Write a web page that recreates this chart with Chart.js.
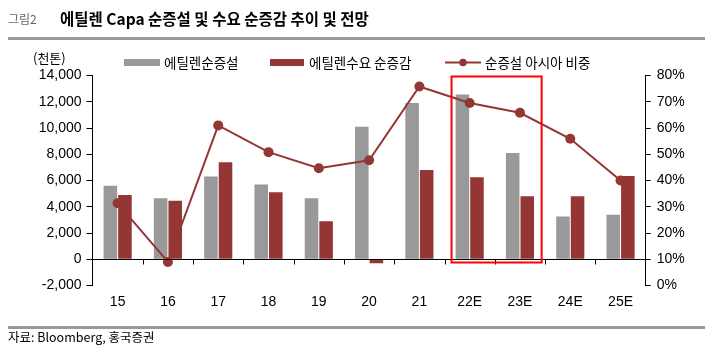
<!DOCTYPE html>
<html>
<head>
<meta charset="utf-8">
<script src="https://cdn.jsdelivr.net/npm/chart.js@4"></script>
<style>
  body { margin: 0; background: #fff; }
  #wrap { position: relative; width: 715px; height: 349px; overflow: hidden; }
  #c { position: absolute; left: 0; top: 0; }
  .t { position: absolute; white-space: nowrap; font-family: "Noto Sans CJK KR", sans-serif; color: #000; }
  .rule { position: absolute; left: 8px; width: 697px; background: #999; }
</style>
</head>
<body>
<div id="wrap">
  <canvas id="c" width="715" height="349"></canvas>
  <div class="t" style="left:8px; top:10px; font-size:12px; color:#666;">그림2</div>
  <div class="t" style="left:60px; top:7px; font-size:15.5px; font-weight:bold;">에틸렌 Capa 순증설 및 수요 순증감 추이 및 전망</div>
  <div class="rule" style="top:37px; height:3px;"></div>
  <div class="t" style="left:33px; top:48px; font-size:13px;">(천톤)</div>
  <div class="rule" style="top:326px; height:2.5px;"></div>
  <div class="t" style="left:8px; top:327px; font-size:12.5px;">자료: Bloomberg, 홍국증권</div>
</div>
<script>
// data
const categories = ['15', '16', '17', '18', '19', '20', '21', '22E', '23E', '24E', '25E'];
const capaAdds = [5600, 4650, 6300, 5700, 4650, 10100, 11900, 12550, 8100, 3250, 3400];
const demandAdds = [4900, 4450, 7400, 5100, 2900, -300, 6800, 6250, 4800, 4800, 6350];
const asiaShare = [31.3, 9, 61, 50.8, 44.7, 47.7, 75.8, 69.5, 65.8, 55.9, 40];
const highlighted = ['22E', '23E'];

const GRAY = '#999999';
const RED = '#943634';
const tickFont = { family: 'Liberation Sans, Arial, sans-serif', size: 14 };

// zero line + category ticks, highlight box, legend
const extras = {
    id: 'extras',
    afterDatasetsDraw(chart) {
        const ctx = chart.ctx;
        const x = chart.scales.x, y = chart.scales.y;
        const area = chart.chartArea;
        const y0 = Math.round(y.getPixelForValue(0)) + 0.5;
        const step = x.getPixelForValue(1) - x.getPixelForValue(0);
        ctx.save();
        ctx.strokeStyle = '#000';
        ctx.lineWidth = 1;
        ctx.beginPath();
        ctx.moveTo(area.left, y0);
        ctx.lineTo(area.right, y0);
        for (let i = 0; i < categories.length - 1; i++) {
            const px = Math.round(x.getPixelForValue(i) + step / 2) + 0.5;
            ctx.moveTo(px, y0);
            ctx.lineTo(px, y0 + 5);
        }
        ctx.stroke();

        // red box round the forecast years
        const i0 = categories.indexOf(highlighted[0]);
        const i1 = categories.indexOf(highlighted[highlighted.length - 1]);
        const bx0 = x.getPixelForValue(i0) - step / 2 + 7;
        const bx1 = x.getPixelForValue(i1) + step / 2 - 3.5;
        ctx.strokeStyle = '#ff0000';
        ctx.lineWidth = 2;
        ctx.strokeRect(bx0, area.top + 1, bx1 - bx0, y0 + 2 - area.top);
        ctx.restore();
    },
    afterDraw(chart) {
        const ctx = chart.ctx;
        const ly = 62.5;
        ctx.save();
        ctx.font = '13.5px "Noto Sans CJK KR", sans-serif';
        ctx.textBaseline = 'middle';
        ctx.fillStyle = GRAY;
        ctx.fillRect(124, ly - 3.5, 36, 7);
        ctx.fillStyle = RED;
        ctx.fillRect(270, ly - 3.5, 34, 7);
        ctx.strokeStyle = RED;
        ctx.lineWidth = 2;
        ctx.beginPath();
        ctx.moveTo(445, ly);
        ctx.lineTo(481, ly);
        ctx.stroke();
        ctx.beginPath();
        ctx.arc(463, ly, 3.8, 0, Math.PI * 2);
        ctx.fill();
        ctx.fillStyle = '#000';
        ctx.fillText(chart.data.datasets[0].label, 164, ly);
        ctx.fillText(chart.data.datasets[1].label, 309, ly);
        ctx.fillText(chart.data.datasets[2].label, 485, ly);
        ctx.restore();
    }
};

new Chart(document.getElementById('c'), {
    data: {
        labels: categories,
        datasets: [
            { type: 'bar', label: '에틸렌순증설', data: capaAdds, backgroundColor: GRAY, yAxisID: 'y', order: 1,
              categoryPercentage: 0.58, barPercentage: 0.93 },
            { type: 'bar', label: '에틸렌수요 순증감', data: demandAdds, backgroundColor: RED, yAxisID: 'y', order: 1,
              categoryPercentage: 0.58, barPercentage: 0.93 },
            { type: 'line', label: '순증설 아시아 비중', data: asiaShare, borderColor: RED, backgroundColor: RED,
              borderWidth: 2, pointRadius: 5, pointBackgroundColor: RED, pointBorderWidth: 0, yAxisID: 'y1', order: 0 }
        ]
    },
    options: {
        responsive: false,
        animation: false,
        layout: { padding: { top: 75.5, left: 0, right: 0, bottom: 0 } },
        plugins: { legend: { display: false }, tooltip: { enabled: false } },
        scales: {
            x: {
                grid: { display: false, drawTicks: false },
                border: { display: false },
                ticks: { font: tickFont, color: '#000', padding: 8, maxRotation: 0 },
                afterFit(s) { s.height = 63.5; }
            },
            y: {
                position: 'left',
                min: -2000, max: 14000,
                grid: { drawOnChartArea: false, drawTicks: true, tickLength: 6, color: '#000' },
                border: { color: '#000' },
                ticks: { stepSize: 2000, font: tickFont, color: '#000', padding: 5,
                         callback: v => v.toLocaleString('en-US') },
                afterFit(s) { s.width = 92.5; }
            },
            y1: {
                position: 'right',
                min: 0, max: 80,
                grid: { drawOnChartArea: false, drawTicks: true, tickLength: 5, color: '#000' },
                border: { color: '#000' },
                ticks: { stepSize: 10, font: tickFont, color: '#000', padding: 6,
                         callback: v => v + '%' },
                afterFit(s) { s.width = 69.3; }
            }
        }
    },
    plugins: [extras]
});
</script>
</body>
</html>
